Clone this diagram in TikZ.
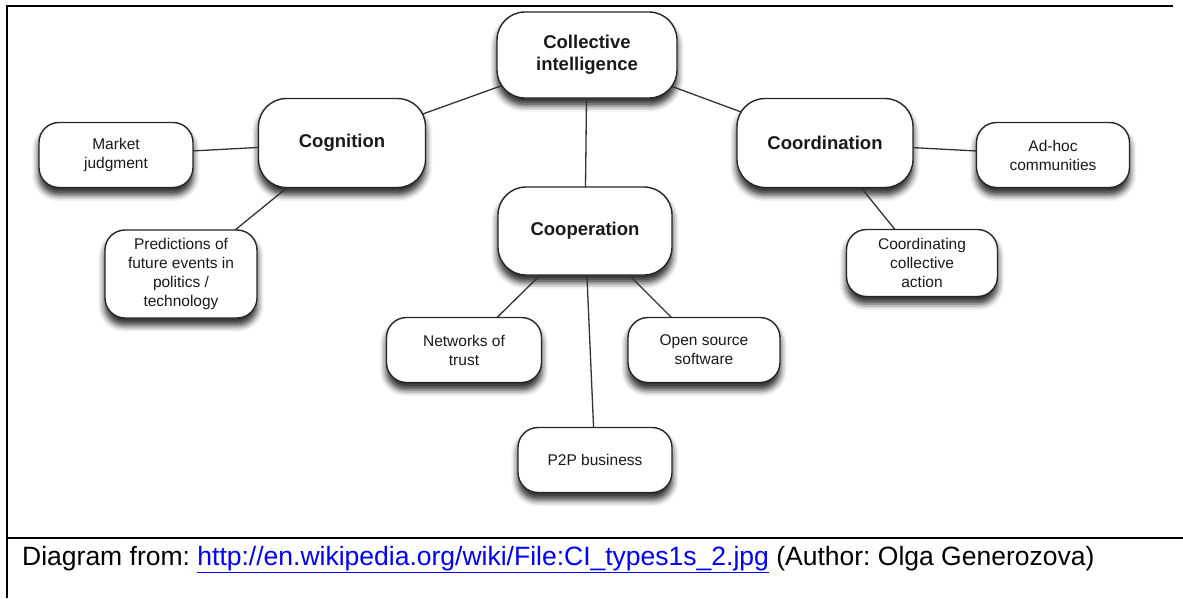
\documentclass[tikz,border=0pt]{standalone}
\usepackage{fontspec}
\setmainfont{Liberation Sans}
\usetikzlibrary{shadows.blur,calc}
\pgfdeclarelayer{background}
\pgfsetlayers{background,main}
\newcommand\nodeshadow[2]{\path[shade, rounded corners=#2] (#1.south west) rectangle (#1.north east);}
\frenchspacing
\begin{document}
\begin{tikzpicture}[x=1pt,y=-1pt,
  box/.style={draw=black!85, line width=1.4pt, fill=white, align=center, inner sep=0pt, text=black!90},
  big/.style={box, rounded corners=28pt, font=\fontsize{18.5}{21.5}\selectfont\bfseries},
  small/.style={box, rounded corners=20pt, font=\fontsize{15.5}{19}\selectfont},
  edge/.style={draw=black!80, line width=1.3pt},
  shade/.style={blur shadow={shadow xshift=0pt, shadow yshift=-7pt, shadow blur radius=6pt, shadow opacity=80}},
  frame/.style={line width=2pt}
]
\useasboundingbox (0,0) rectangle (1183,598);
\draw[frame] (7,598) -- (7,6) -- (1173,6);
\draw[frame] (7,538) -- (1183,538);

\node[big, minimum width=180, minimum height=86] (ci) at (587,55) {Collective\\intelligence};
\node[big, minimum width=167, minimum height=89] (cog) at (342,143) {Cognition};
\node[big, minimum width=176, minimum height=89] (coord) at (825,143) {Coordination};
\node[big, minimum width=174, minimum height=88] (coop) at (585,231) {Cooperation};

\node[small, minimum width=154, minimum height=65] (mkt) at (116,155) {Market\\judgment};
\node[small, minimum width=152, minimum height=88] (pred) at (181,274) {Predictions of\\future events in\\politics /\\technology};
\node[small, minimum width=153, minimum height=65] (adhoc) at (1053,155) {Ad-hoc\\communities};
\node[small, minimum width=151, minimum height=67] (cca) at (922,263) {Coordinating\\collective\\action};
\node[small, minimum width=155, minimum height=65] (net) at (464,350) {Networks of\\trust};
\node[small, minimum width=152, minimum height=65] (oss) at (704,350) {Open source\\software};
\node[small, minimum width=154, minimum height=65] (p2p) at (595,460) {P2P business};

\begin{pgfonlayer}{background}
  \nodeshadow{ci}{28pt}
  \nodeshadow{cog}{28pt}
  \nodeshadow{coord}{28pt}
  \nodeshadow{coop}{28pt}
  \nodeshadow{mkt}{20pt}
  \nodeshadow{pred}{20pt}
  \nodeshadow{adhoc}{20pt}
  \nodeshadow{cca}{20pt}
  \nodeshadow{net}{20pt}
  \nodeshadow{oss}{20pt}
  \nodeshadow{p2p}{20pt}
  \draw[edge] (ci.center) -- (cog.center);
  \draw[edge] (ci.center) -- (coord.center);
  \draw[edge] (ci.center) -- (coop.center);
  \draw[edge] (cog.center) -- (mkt.center);
  \draw[edge] (cog.center) -- (pred.center);
  \draw[edge] (coord.center) -- (adhoc.center);
  \draw[edge] (coord.center) -- (cca.center);
  \draw[edge] (coop.center) -- (net.center);
  \draw[edge] (coop.center) -- (oss.center);
  \draw[edge] (coop.center) -- (p2p.center);
\end{pgfonlayer}

\node[anchor=base west, inner sep=0pt, font=\fontsize{26.5}{30}\selectfont] (foot) at (22,565)
  {Diagram from: \textcolor{blue}{\underline{http://en.wikipedia.org/wiki/File:CI\_types1s\_2.jpg}} (Author: Olga Generozova)};
\end{tikzpicture}
\end{document}
